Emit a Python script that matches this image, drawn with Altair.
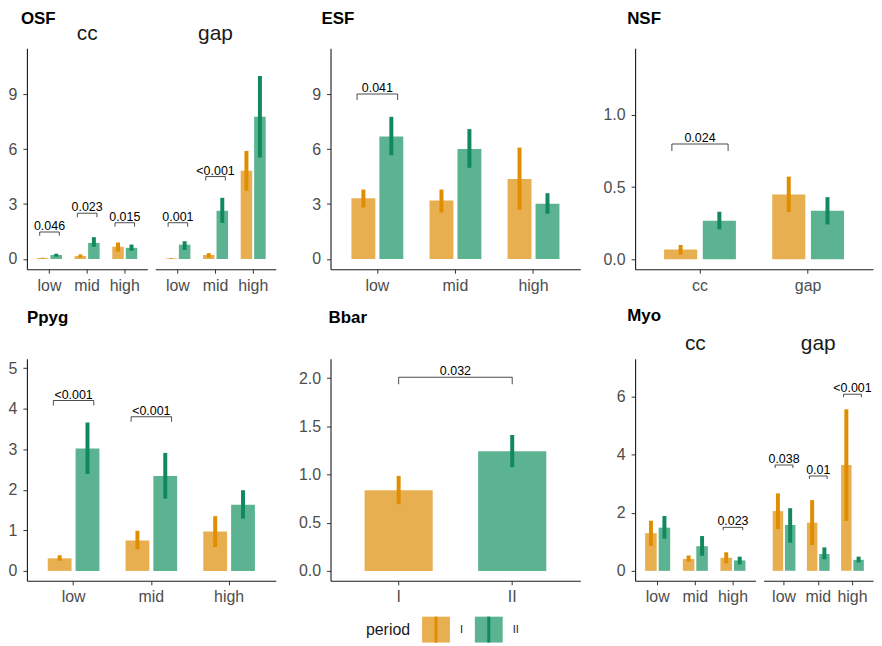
import altair as alt
import pandas as pd

FONT = "Liberation Sans"
PERIODS = ["I", "II"]
LEVELS = ["low", "mid", "high"]
SITES = ["cc", "gap"]
BAR_COLORS = ["#E8AF50", "#5BB391"]
ERR_COLORS = ["#E08E00", "#11895C"]

# ---------------- data ----------------
# OSF, cc
osf_cc_I_mean = [0.05, 0.16, 0.67]
osf_cc_I_lo = [0.03, 0.07, 0.40]
osf_cc_I_hi = [0.07, 0.25, 0.90]
osf_cc_II_mean = [0.22, 0.88, 0.61]
osf_cc_II_lo = [0.13, 0.67, 0.45]
osf_cc_II_hi = [0.29, 1.19, 0.79]
osf_cc_brk = [("low", 1.48, "0.046"), ("mid", 2.50, "0.023"), ("high", 1.98, "0.015")]
# OSF, gap
osf_gap_I_mean = [0.03, 0.22, 4.82]
osf_gap_I_lo = [0.01, 0.07, 3.73]
osf_gap_I_hi = [0.05, 0.32, 5.90]
osf_gap_II_mean = [0.78, 2.63, 7.76]
osf_gap_II_lo = [0.49, 1.97, 5.54]
osf_gap_II_hi = [0.97, 3.34, 9.99]
osf_gap_brk = [("low", 1.98, "0.001"), ("mid", 4.50, "<0.001")]
# ESF
esf_I_mean = [3.32, 3.19, 4.37]
esf_I_lo = [2.81, 2.54, 2.69]
esf_I_hi = [3.79, 3.79, 6.08]
esf_II_mean = [6.69, 6.00, 3.01]
esf_II_lo = [5.66, 4.98, 2.47]
esf_II_hi = [7.76, 7.09, 3.59]
esf_brk = [("low", 9.0, "0.041")]
# NSF (by site)
nsf_I_mean = [0.067, 0.448]
nsf_I_lo = [0.032, 0.326]
nsf_I_hi = [0.099, 0.572]
nsf_II_mean = [0.267, 0.336]
nsf_II_lo = [0.207, 0.241]
nsf_II_hi = [0.329, 0.430]
nsf_brk = [("cc", 0.798, "0.024")]
# Ppyg
ppyg_I_mean = [0.31, 0.75, 0.97]
ppyg_I_lo = [0.25, 0.53, 0.59]
ppyg_I_hi = [0.385, 0.99, 1.35]
ppyg_II_mean = [3.02, 2.34, 1.63]
ppyg_II_lo = [2.39, 1.78, 1.29]
ppyg_II_hi = [3.66, 2.91, 1.99]
ppyg_brk = [("low", 4.2, "<0.001"), ("mid", 3.8, "<0.001")]
# Bbar (by period only)
bbar_mean = [0.838, 1.241]
bbar_lo = [0.693, 1.076]
bbar_hi = [0.986, 1.410]
bbar_brk = [("I", 2.01, "0.032")]
# Myo, cc
myo_cc_I_mean = [1.30, 0.41, 0.45]
myo_cc_I_lo = [0.86, 0.32, 0.26]
myo_cc_I_hi = [1.73, 0.53, 0.64]
myo_cc_II_mean = [1.49, 0.85, 0.36]
myo_cc_II_lo = [1.11, 0.52, 0.22]
myo_cc_II_hi = [1.89, 1.20, 0.49]
myo_cc_brk = [("high", 1.50, "0.023")]
# Myo, gap
myo_gap_I_mean = [2.06, 1.66, 3.65]
myo_gap_I_lo = [1.44, 0.89, 1.72]
myo_gap_I_hi = [2.67, 2.44, 5.57]
myo_gap_II_mean = [1.58, 0.58, 0.38]
myo_gap_II_lo = [0.97, 0.40, 0.29]
myo_gap_II_hi = [2.16, 0.81, 0.49]
myo_gap_brk = [("low", 3.65, "0.038"), ("mid", 3.27, "0.01"), ("high", 6.09, "<0.001")]


def long_df(cats, mI, lI, hI, mII, lII, hII):
    rows = []
    for p, m, l, h in (("I", mI, lI, hI), ("II", mII, lII, hII)):
        for c, mv, lv, hv in zip(cats, m, l, h):
            rows.append(dict(cat=c, period=p, mean=mv, lo=lv, hi=hv))
    return pd.DataFrame(rows)


FILL = alt.Fill("period:N", scale=alt.Scale(domain=PERIODS, range=BAR_COLORS), legend=None)
STROKE = alt.Stroke("period:N", scale=alt.Scale(domain=PERIODS, range=ERR_COLORS), legend=None)


def panel(df, cats, brk, width, height, ydom, yticks, yfmt, show_y, title,
          tip=5, dodge=True, between=False, clip_text=False):
    n = len(cats)
    step = width / (n + 0.2)
    pi = 0.336 if dodge else 0.4
    po = (0.2 + pi) / 2
    xs = alt.Scale(domain=cats, paddingInner=pi, paddingOuter=po)
    xa = alt.Axis(title=None, labelAngle=0, labelPadding=4)
    ys = alt.Scale(domain=ydom, nice=False, zero=False)
    ya = alt.Axis(title=None, values=yticks, format=yfmt, labelPadding=6) if show_y else None

    def X():
        return alt.X("cat:N", scale=xs, axis=xa, sort=cats)

    def Y(f):
        return alt.Y(f, scale=ys, axis=ya)

    base = alt.Chart(df)
    enc = dict(x=X())
    if dodge:
        enc["xOffset"] = alt.XOffset("period:N", scale=alt.Scale(domain=PERIODS, paddingInner=0.145, paddingOuter=0))
    bars = base.mark_bar().encode(y=Y("mean:Q"), y2=alt.datum(0), fill=FILL, **enc)
    errs = base.mark_rule(strokeWidth=4).encode(y=Y("lo:Q"), y2="hi:Q", stroke=STROKE, **enc)

    bdf = pd.DataFrame(brk, columns=["cat", "y", "label"])
    span = step if between else 0.52 * step
    shift = step / 2 if between else 0
    bb = alt.Chart(bdf)
    hline = bb.mark_tick(orient="horizontal", size=span, thickness=1, color="black",
                         xOffset=shift).encode(x=X(), y=Y("y:Q"))
    lt = bb.mark_tick(orient="vertical", size=tip, thickness=1, color="black",
                      xOffset=shift - span / 2, yOffset=tip / 2).encode(x=X(), y=Y("y:Q"))
    rt = bb.mark_tick(orient="vertical", size=tip, thickness=1, color="black",
                      xOffset=shift + span / 2, yOffset=tip / 2).encode(x=X(), y=Y("y:Q"))
    txt = bb.mark_text(fontSize=12.5, font=FONT, baseline="alphabetic", dy=-2, dx=shift,
                       color="black", clip=clip_text).encode(x=X(), y=Y("y:Q"), text="label:N")
    return alt.layer(bars, errs, hline, lt, rt, txt).properties(width=width, height=height, title=title)


def main_title(text, offset, dx):
    return alt.TitleParams(text, anchor="start", frame="group", fontSize=17, fontWeight="bold",
                           font=FONT, color="black", offset=offset, dx=dx)


def sub_title(text, offset):
    return alt.TitleParams(text, anchor="middle", fontSize=21, fontWeight="normal",
                           font=FONT, color="#1A1A1A", offset=offset)


def spacer(width, height, title=None):
    c = alt.Chart(pd.DataFrame({"v": [0]})).mark_point(opacity=0).encode(x=alt.value(0), y=alt.value(0))
    if title is not None:
        return c.properties(width=width, height=height, title=title)
    return c.properties(width=width, height=height)


H1, H2 = 222, 223
dom_osf = [-0.56, 11.5]

osf_cc = panel(long_df(LEVELS, osf_cc_I_mean, osf_cc_I_lo, osf_cc_I_hi, osf_cc_II_mean, osf_cc_II_lo, osf_cc_II_hi),
               LEVELS, osf_cc_brk, 121, H1, dom_osf, [0, 3, 6, 9], "d", True, sub_title("cc", 4), tip=4)
osf_gap = panel(long_df(LEVELS, osf_gap_I_mean, osf_gap_I_lo, osf_gap_I_hi, osf_gap_II_mean, osf_gap_II_lo, osf_gap_II_hi),
                LEVELS, osf_gap_brk, 121, H1, dom_osf, [0, 3, 6, 9], "d", False, sub_title("gap", 4), tip=4)
esf = panel(long_df(LEVELS, esf_I_mean, esf_I_lo, esf_I_hi, esf_II_mean, esf_II_lo, esf_II_hi),
            LEVELS, esf_brk, 251, H1, dom_osf, [0, 3, 6, 9], "d", True, main_title("ESF", 20, -9), tip=6)
nsf = panel(long_df(SITES, nsf_I_mean, nsf_I_lo, nsf_I_hi, nsf_II_mean, nsf_II_lo, nsf_II_hi),
            SITES, nsf_brk, 239, H1, [-0.069, 1.46], [0, 0.5, 1.0], ".1f", True, main_title("NSF", 20, -8), tip=7)

ppyg = panel(long_df(LEVELS, ppyg_I_mean, ppyg_I_lo, ppyg_I_hi, ppyg_II_mean, ppyg_II_lo, ppyg_II_hi),
             LEVELS, ppyg_brk, 250, H2, [-0.245, 5.23], [0, 1, 2, 3, 4, 5], "d", True, main_title("Ppyg", 32, 0), tip=5)
bbar_df = pd.DataFrame(dict(cat=PERIODS, period=PERIODS, mean=bbar_mean, lo=bbar_lo, hi=bbar_hi))
bbar = panel(bbar_df, PERIODS, bbar_brk, 251, H2, [-0.103, 2.2], [0, 0.5, 1.0, 1.5, 2.0], ".1f", True,
             main_title("Bbar", 32, -2), tip=7, dodge=False, between=True)
dom_myo = [-0.344, 7.31]
myo_cc = panel(long_df(LEVELS, myo_cc_I_mean, myo_cc_I_lo, myo_cc_I_hi, myo_cc_II_mean, myo_cc_II_lo, myo_cc_II_hi),
               LEVELS, myo_cc_brk, 121, H2, dom_myo, [0, 2, 4, 6], "d", True, sub_title("cc", 5), tip=3)
myo_gap = panel(long_df(LEVELS, myo_gap_I_mean, myo_gap_I_lo, myo_gap_I_hi, myo_gap_II_mean, myo_gap_II_lo, myo_gap_II_hi),
                LEVELS, myo_gap_brk, 110, H2, dom_myo, [0, 2, 4, 6], "d", False, sub_title("gap", 5), tip=3,
                clip_text=True)

row1 = alt.hconcat(osf_cc, osf_gap, spacer(39, H1, main_title("OSF", 18, -264)), esf, spacer(39, H1), nsf,
                   spacing=8, bounds="flush").resolve_scale(xOffset="independent")
row2 = alt.hconcat(ppyg, spacer(39, H2), bbar, spacer(39, H2, main_title("Myo", 31, 39)), myo_cc, myo_gap,
                   spacing=8, bounds="flush").resolve_scale(xOffset="independent")

# manual legend (bar fill + error-bar line)
leg_df = pd.DataFrame({"period": PERIODS})
lx = alt.X("period:N", scale=alt.Scale(type="point", domain=PERIODS, range=[411, 464], padding=0), axis=None)
LH = 26
lkey = alt.Chart(leg_df).mark_bar(width=28).encode(x=lx, y=alt.value(0), y2=alt.value(LH), fill=FILL)
lline = alt.Chart(leg_df).mark_rule(strokeWidth=3).encode(x=lx, y=alt.value(0), y2=alt.value(LH), stroke=STROKE)
llab = alt.Chart(leg_df).mark_text(align="left", dx=24, fontSize=11, baseline="middle", font=FONT,
                                   color="#1A1A1A").encode(x=lx, y=alt.value(LH / 2), text="period:N")
ltitle = alt.Chart(leg_df).transform_filter("datum.period == 'I'").mark_text(
    align="right", dx=-26, fontSize=16, baseline="middle", font=FONT, color="#1A1A1A", text="period"
).encode(x=lx, y=alt.value(LH / 2))
legend = alt.layer(lkey, lline, llab, ltitle).properties(width=851, height=LH)

chart = alt.vconcat(
    alt.vconcat(row1, row2, spacing=14).resolve_scale(xOffset="independent"),
    legend, spacing=10
).resolve_scale(xOffset="independent").properties(
    padding={"left": 0, "top": 0, "right": 0, "bottom": 0}
).configure(font=FONT).configure_view(stroke=None).configure_axis(
    labelFontSize=16, labelColor="#4D4D4D", labelFont=FONT, tickColor="#333333", tickSize=4,
    domainColor="#1A1A1A", domainWidth=1.1, grid=False
).configure_title(
    fontSize=21, fontWeight="normal", anchor="middle", color="#1A1A1A", offset=6, font=FONT
)

chart.save("out.html", embed_options={"renderer": "svg", "actions": False})
